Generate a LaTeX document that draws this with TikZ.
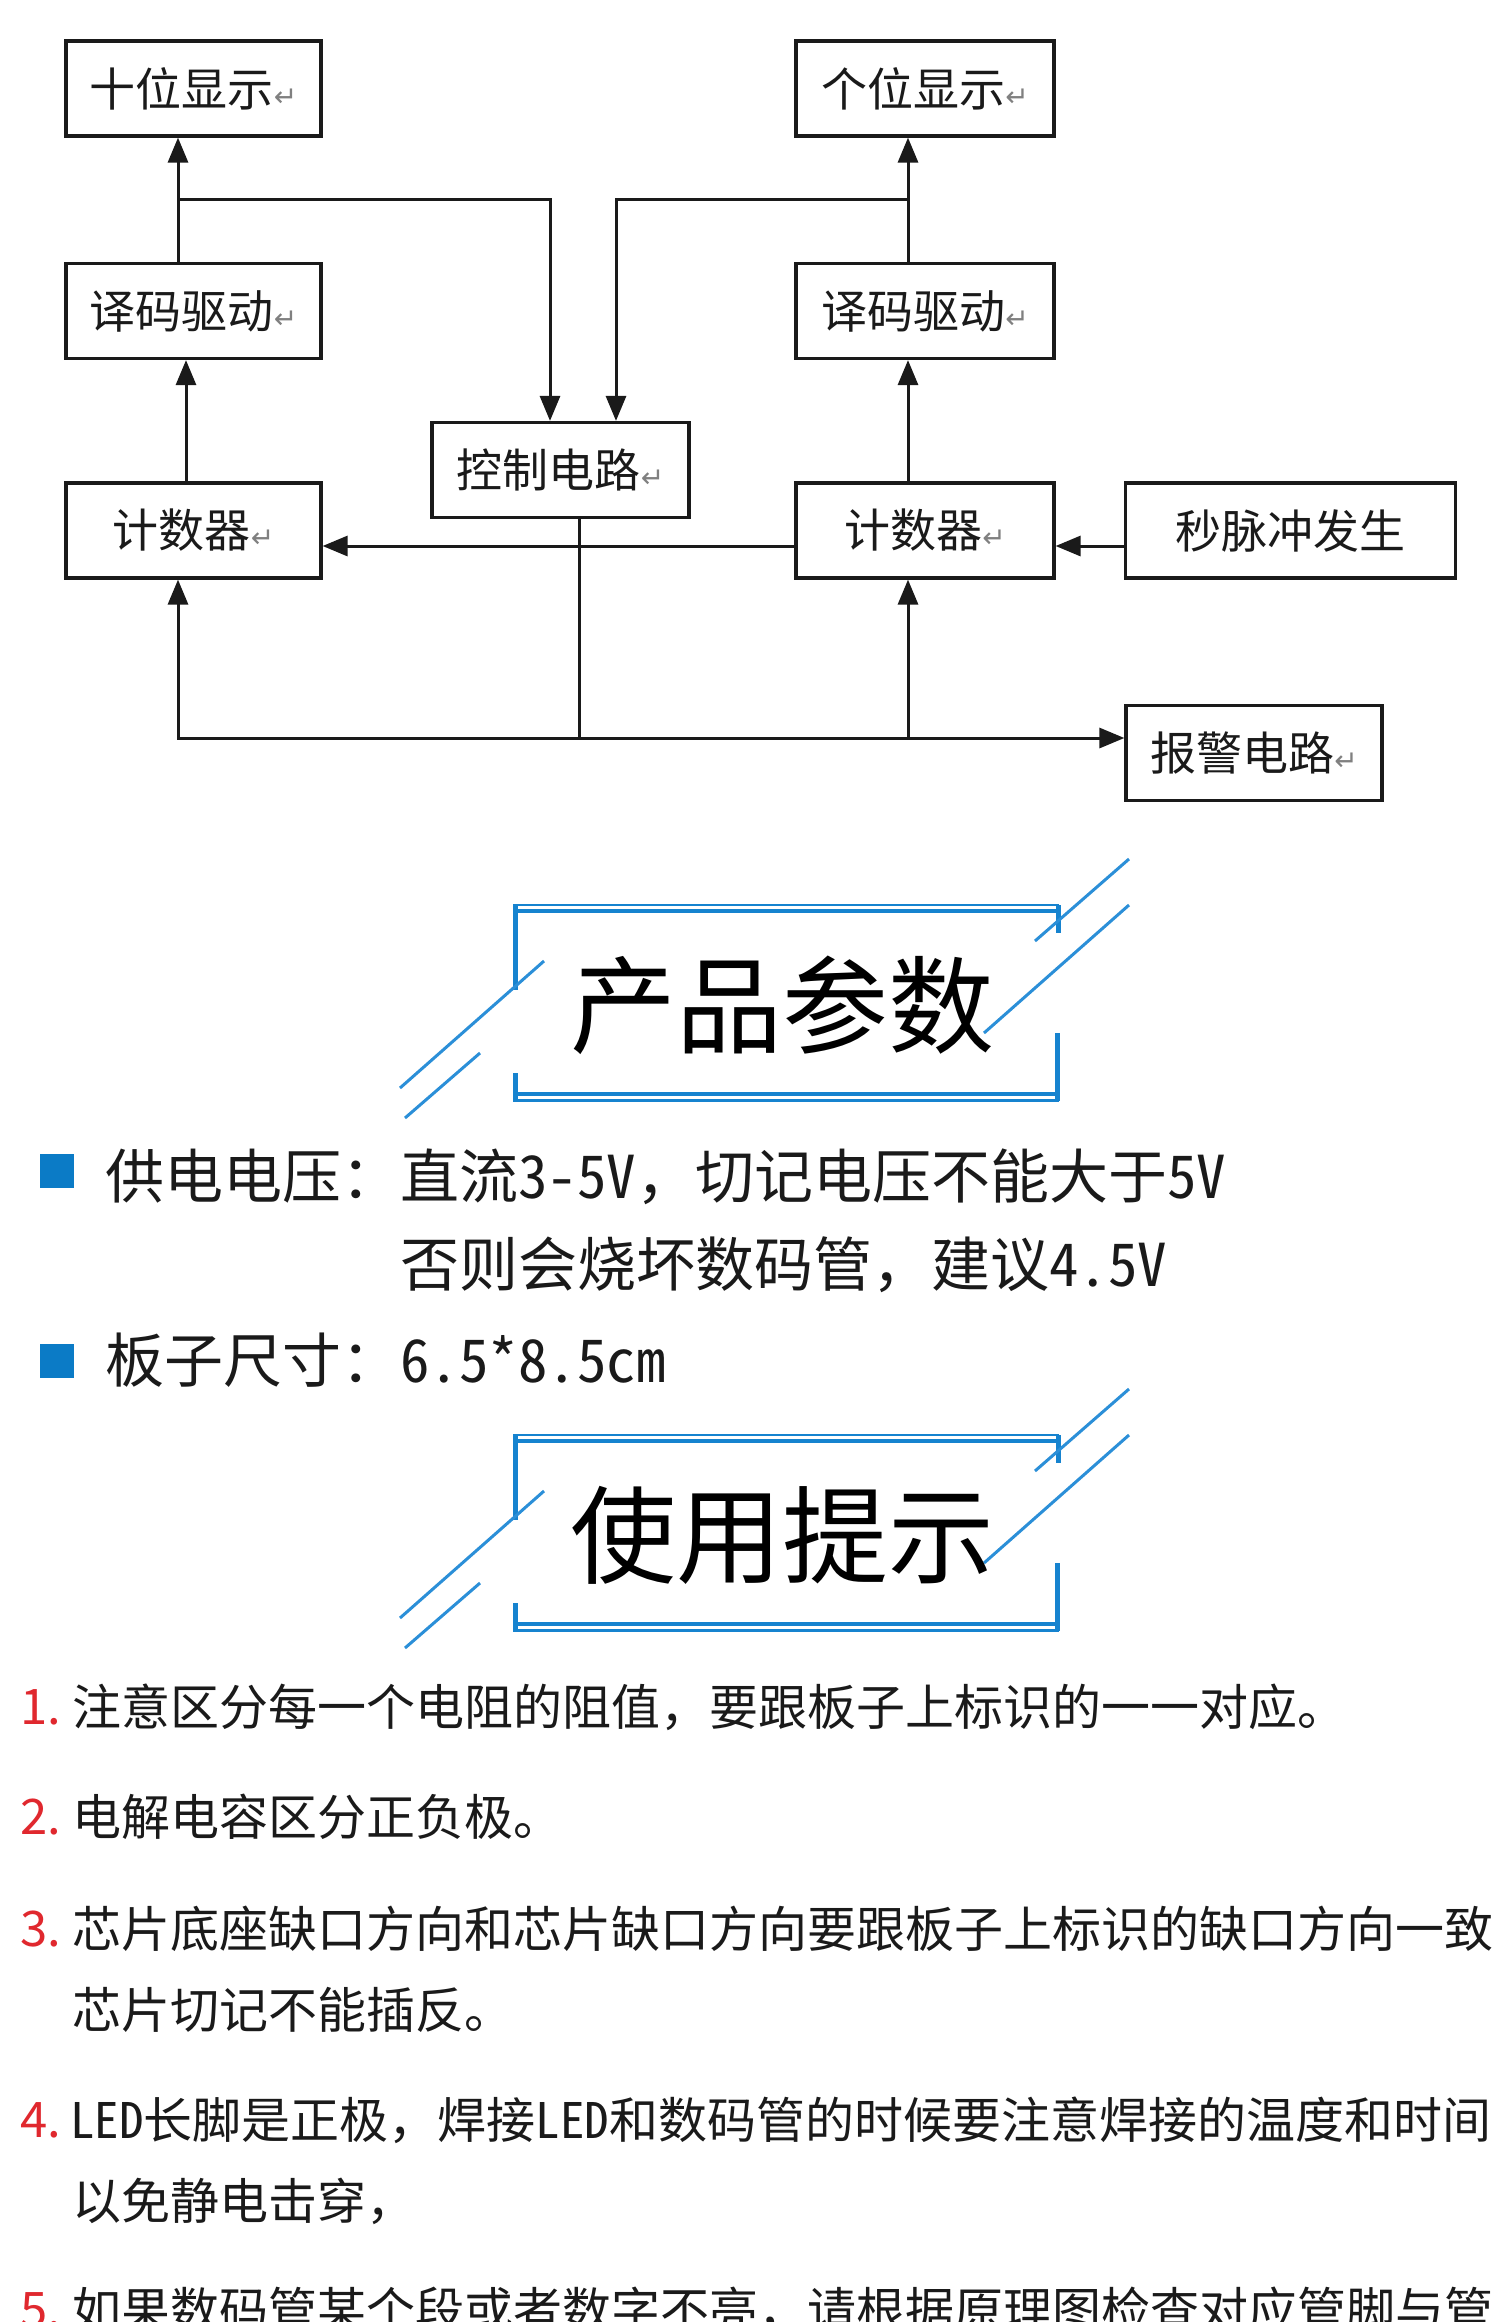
\documentclass[tikz,border=0pt]{standalone}
\usepackage{fontspec}
\setmainfont{Noto Sans CJK SC}
\newfontfamily\hwfont[RawFeature=+hwid]{Noto Sans CJK SC}
\newfontfamily\retfont{DejaVu Sans}
\usetikzlibrary{arrows.meta,calc}
\definecolor{TipBlue}{HTML}{1683CF}
\definecolor{TipLine}{HTML}{2B8FD8}
\definecolor{TipSquare}{HTML}{0B7BC6}
\definecolor{TipRed}{HTML}{E0282E}
\definecolor{TipInk}{HTML}{1A1A1A}
\newcommand{\retmark}{{\retfont\color{black!50}\fontsize{28}{28}\selectfont ↵}}

\begin{document}
\begin{tikzpicture}[x=1pt,y=-1pt,
    blk/.style={draw=TipInk,line width=3.2pt,minimum width=255pt,minimum height=95pt,
      inner sep=0pt,text=TipInk,font=\fontsize{46}{54}\selectfont},
    arr/.style={-{Triangle[length=25pt,width=20pt]},line width=3pt,draw=TipInk},
    wire/.style={line width=3pt,draw=TipInk},
    sectxt/.style={anchor=west,inner sep=0pt,text=TipInk,font=\fontsize{59}{70}\selectfont},
    listtxt/.style={anchor=west,inner sep=0pt,text=TipInk,font=\fontsize{49}{58}\selectfont},
    numtxt/.style={anchor=west,inner sep=0pt,text=TipRed,font=\fontsize{49}{58}\selectfont},
    bullet/.style={fill=TipSquare,minimum size=34pt,inner sep=0pt}]
  \useasboundingbox (0,0) rectangle (1500,2322);
  \fill[white] (0,0) rectangle (1500,2322);
  \clip (0,0) rectangle (1500,2322);

  \node[blk] (ten) at (193.5,88.5) {十位显示\retmark};
  \node[blk] (decL) at (193.5,311) {译码驱动\retmark};
  \node[blk] (cntL) at (193.5,530.5) {计数器\retmark};
  \node[blk,minimum width=257pt] (ctrl) at (560.5,470) {控制电路\retmark};
  \node[blk,minimum width=258pt] (one) at (925,88.5) {个位显示\retmark};
  \node[blk,minimum width=258pt] (decR) at (925,311) {译码驱动\retmark};
  \node[blk,minimum width=258pt] (cntR) at (925,530.5) {计数器\retmark};
  \node[blk,minimum width=330pt] (sec) at (1290.5,530.5) {秒脉冲发生};
  \node[blk,minimum width=256pt] (alarm) at (1254,753) {报警电路\retmark};

  \draw[arr] ([xshift=-15.5pt]decL.north) -- ([xshift=-15.5pt]ten.south);
  \draw[arr] ([xshift=-7.5pt]cntL.north) -- ([xshift=-7.5pt]decL.south);
  \draw[arr] ([xshift=-17pt]decR.north) -- ([xshift=-17pt]one.south);
  \draw[arr] ([xshift=-17pt]cntR.north) -- ([xshift=-17pt]decR.south);
  \coordinate (tapL) at ($(decL.north)!.5!(ten.south)+(-15.5,0)$);
  \coordinate (tapR) at ($(decR.north)!.5!(one.south)+(-17,0)$);
  \draw[arr] (tapL) -| ([xshift=-10.5pt]ctrl.north);
  \draw[arr] (tapR) -| ([xshift=55.5pt]ctrl.north);
  \draw[arr] ([yshift=-15.5pt]sec.west) -- ([yshift=-15.5pt]cntR.east);
  \draw[arr] ([yshift=-15.5pt]cntR.west) -- ([yshift=-15.5pt]cntL.east);

  \coordinate (busE) at ([yshift=15pt]alarm.west);
  \coordinate (ctrlOut) at ([xshift=18.5pt]ctrl.south);
  \draw[wire] (ctrlOut) -- (ctrlOut |- busE);
  \draw[arr] (ctrlOut |- busE) -- (busE);
  \draw[arr] (ctrlOut |- busE) -| ([xshift=-15.5pt]cntL.south);
  \draw[arr] ([xshift=-17pt]cntR.south |- busE) -- ([xshift=-17pt]cntR.south);

  \foreach \dy/\ttl/\nm in {0/产品参数/hdA,530/使用提示/hdB}{
    \begin{scope}[shift={(0,\dy)}]
      \draw[TipBlue,line width=2.5pt] (513,905) -- (1059,905);
      \draw[TipBlue,line width=4.5pt] (515,911) -- (1058,911);
      \draw[TipBlue,line width=5pt] (515,905) -- (515,990);
      \draw[TipBlue,line width=5pt] (515,1073) -- (515,1101);
      \draw[TipBlue,line width=5pt] (1058,905) -- (1058,933);
      \draw[TipBlue,line width=5pt] (1057,1033) -- (1057,1101);
      \draw[TipBlue,line width=4.5pt] (515,1094) -- (1058,1094);
      \draw[TipBlue,line width=2.5pt] (513,1100.5) -- (1059,1100.5);
      \draw[TipLine,line width=3pt] (1035,941) -- (1129,859);
      \draw[TipLine,line width=3pt] (984,1033) -- (1129,905);
      \draw[TipLine,line width=3pt] (400,1088) -- (544,961);
      \draw[TipLine,line width=3pt] (405,1118) -- (480,1053);
      \node[inner sep=0pt,text=black,font=\fontsize{106}{120}\selectfont] (\nm) at (782,1005) {\ttl};
    \end{scope}
  }

  \node[bullet] (bulA) at (57,1171) {};
  \node[sectxt] (volt) at (105,1177) {供电电压：直流{\hwfont 3-5V}，切记电压不能大于{\hwfont 5V}};
  \node[sectxt] (voltB) at (400,1265) {否则会烧坏数码管，建议{\hwfont 4.5V}};
  \node[bullet] (bulB) at (57,1361) {};
  \node[sectxt] (size) at (105,1360) {板子尺寸：{\hwfont 6.5*8.5cm}};

  \node[numtxt] (numA) at (20,1707) {1.};
  \node[listtxt] (tipA) at (72,1707) {注意区分每一个电阻的阻值，要跟板子上标识的一一对应。};
  \node[numtxt] (numB) at (20,1817) {2.};
  \node[listtxt] (tipB) at (72,1817) {电解电容区分正负极。};
  \node[numtxt] (numC) at (20,1929) {3.};
  \node[listtxt] (tipC) at (72,1929) {芯片底座缺口方向和芯片缺口方向要跟板子上标识的缺口方向一致};
  \node[listtxt] (tipCb) at (72,2010) {芯片切记不能插反。};
  \node[numtxt] (numD) at (20,2120) {4.};
  \node[listtxt] (tipD) at (70,2120) {{\hwfont LED}长脚是正极，焊接{\hwfont LED}和数码管的时候要注意焊接的温度和时间};
  \node[listtxt] (tipDb) at (72,2201) {以免静电击穿，};
  \node[numtxt] (numE) at (20,2310) {5.};
  \node[listtxt] (tipE) at (72,2310) {如果数码管某个段或者数字不亮，请根据原理图检查对应管脚与管};
\end{tikzpicture}
\end{document}
